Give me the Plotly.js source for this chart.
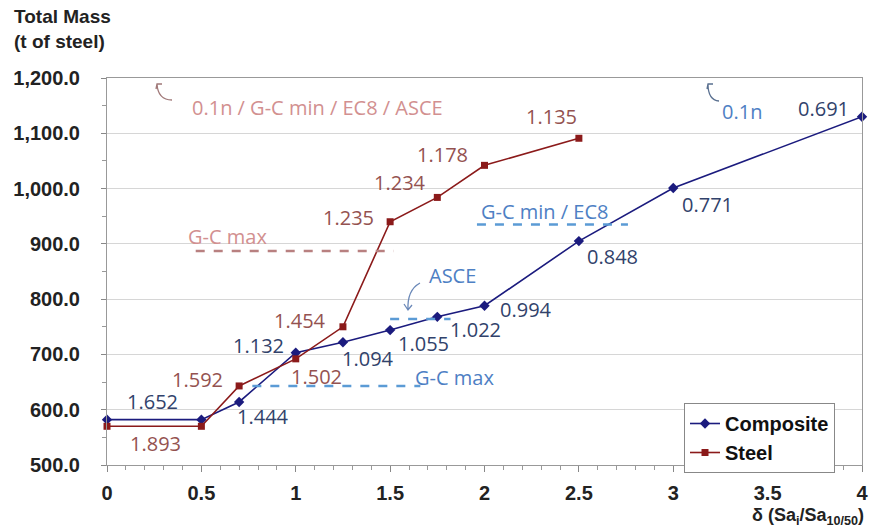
<!DOCTYPE html>
<html>
<head>
<meta charset="utf-8">
<script src="https://cdn.plot.ly/plotly-3.0.1.min.js"></script>
<style>html,body{margin:0;padding:0;background:#fff;}#chart{width:870px;height:528px;}</style>
</head>
<body>
<div id="chart"></div>
<script>
// ---- data ----
const deltaComposite = [0, 0.5, 0.7, 1, 1.25, 1.5, 1.75, 2, 2.5, 3, 4];
const massComposite  = [582, 582, 614, 703, 722, 744, 768, 788, 905, 1001, 1130];
const ratioComposite = ['1.652', null, '1.444', '1.132', '1.094', '1.055', '1.022', '0.994', '0.848', '0.771', '0.691'];

const deltaSteel = [0, 0.5, 0.7, 1, 1.25, 1.5, 1.75, 2, 2.5];
const massSteel  = [570, 570, 643, 692, 750, 940, 984, 1042, 1091];
const ratioSteel = ['1.893', null, '1.592', '1.502', '1.454', '1.235', '1.234', '1.178', '1.135'];

// reference (code) levels
const refNames  = ['G-C max', 'G-C min / EC8', 'ASCE', 'G-C max'];
const refSeries = ['Steel', 'Composite', 'Composite', 'Composite'];
const refMass   = [887, 935, 764, 643];
const refFrom   = [0.47, 1.96, 1.5, 0.77];
const refTo     = [1.52, 2.76, 1.82, 1.66];

const yTickVals = [500, 600, 700, 800, 900, 1000, 1100, 1200];
const xTickVals = [0, 0.5, 1, 1.5, 2, 2.5, 3, 3.5, 4];

// ---- layout geometry / styles ----
const W = 870, H = 528, M = {l: 107, r: 8, t: 78, b: 63};
const X_RANGE = [0, 4], Y_RANGE = [500, 1200];
const pw = W - M.l - M.r, ph = H - M.t - M.b;
const bottomPx = H - M.b;
// pixel -> data / paper helpers (for decorative items only)
const dx = p => X_RANGE[0] + (p - M.l) / pw * (X_RANGE[1] - X_RANGE[0]);
const dy = p => Y_RANGE[0] + (bottomPx - p) / ph * (Y_RANGE[1] - Y_RANGE[0]);
const px2paperX = p => (p - M.l) / pw;
const px2paperY = p => (bottomPx - p) / ph;

const navy = '#1B1B7E', maroon = '#8B1A1A';
const compLabelColor = '#31426B', steelLabelColor = '#945250';
const blueNote = '#4E80C4', pinkNote = '#D29090';
const blueDash = '#5B9BD5', pinkDash = '#B88080';
const labelFont = 'Open Sans, sans-serif';
const boldFont = 'Liberation Sans, Arial, sans-serif';

// label offsets in px (xshift, yshift) per point
const compOffsets = [[45,18],null,[24,-15],[-37,7],[25,-16],[33,-13],[38,-13],[41,-4],[34,-15],[34,-16],[-39,8]];
const steelOffsets = [[48,-17],null,[-42,6],[21,-18],[-43,6],[-42,4],[-37,15],[-42,11],[-27,22]];

const traces = [
  {x: deltaComposite, y: massComposite, name: 'Composite', type: 'scatter', mode: 'lines+markers',
   line: {color: navy, width: 1.6}, marker: {symbol: 'diamond', size: 8, color: navy}, cliponaxis: false},
  {x: deltaSteel, y: massSteel, name: 'Steel', type: 'scatter', mode: 'lines+markers',
   line: {color: maroon, width: 1.6}, marker: {symbol: 'square', size: 7, color: maroon}, cliponaxis: false}
];

const annotations = [];
ratioComposite.forEach((t, i) => {
  if (!t) return;
  annotations.push({x: deltaComposite[i], y: massComposite[i], xref: 'x', yref: 'y', text: t, showarrow: false,
    xshift: compOffsets[i][0], yshift: compOffsets[i][1], font: {family: labelFont, size: 20, color: compLabelColor}});
});
ratioSteel.forEach((t, i) => {
  if (!t) return;
  annotations.push({x: deltaSteel[i], y: massSteel[i], xref: 'x', yref: 'y', text: t, showarrow: false,
    xshift: steelOffsets[i][0], yshift: steelOffsets[i][1], font: {family: labelFont, size: 20, color: steelLabelColor}});
});

// reference-level labels
const noteFont = c => ({family: labelFont, size: 20, color: c});
annotations.push({x: 0.636, y: 914, xref: 'x', yref: 'y', text: refNames[0], showarrow: false, font: noteFont(pinkNote)});
annotations.push({x: 2.32, y: 958, xref: 'x', yref: 'y', text: refNames[1], showarrow: false, font: noteFont(blueNote)});
annotations.push({x: 1.83, y: 843, xref: 'x', yref: 'y', text: refNames[2], showarrow: false, font: noteFont(blueNote)});
annotations.push({x: 1.62, y: 659, xref: 'x', yref: 'y', xanchor: 'left', text: refNames[3], showarrow: false, font: noteFont(blueNote)});
annotations.push({x: 1.113, y: 1147, xref: 'x', yref: 'y', text: '0.1n / G-C min / EC8 / ASCE', showarrow: false, font: noteFont(pinkNote)});
annotations.push({x: 3.364, y: 1140, xref: 'x', yref: 'y', text: '0.1n', showarrow: false, font: noteFont(blueNote)});

// axis titles
annotations.push({xref: 'paper', yref: 'paper', x: px2paperX(12), y: px2paperY(4), xanchor: 'left', yanchor: 'top', align: 'left',
  text: 'Total Mass<br>(t of steel)', showarrow: false,
  font: {family: boldFont, size: 19, color: '#222', weight: 'bold'}});
annotations.push({xref: 'paper', yref: 'paper', x: px2paperX(866), y: px2paperY(503), xanchor: 'right', yanchor: 'top',
  text: 'δ (Sa<sub>i</sub>/Sa<sub>10/50</sub>)', showarrow: false,
  font: {family: boldFont, size: 18, color: '#222', weight: 'bold'}});

// dashed reference levels
const shapes = refMass.map((m, i) => ({
  type: 'line', xref: 'x', yref: 'y', x0: refFrom[i], x1: refTo[i], y0: m, y1: m,
  line: {color: refSeries[i] === 'Steel' ? pinkDash : blueDash, width: 2.5, dash: 'dash'}
}));

// small curved pointer arrows (pixel geometry -> data)
function pointer(tail, ctrl, tip, h1, h2, color) {
  const P = p => dx(p[0]) + ',' + dy(p[1]);
  shapes.push({type: 'path', xref: 'x', yref: 'y', layer: 'above',
    path: 'M' + P(tail) + ' Q' + P(ctrl) + ' ' + P(tip) + ' M' + P(h1) + ' L' + P(tip) + ' L' + P(h2),
    line: {color: color, width: 1.3}});
}
pointer([172, 100], [158, 100], [157, 84], [162, 84], [156, 89], '#A07878');
pointer([719, 101], [708, 100], [708, 84], [713, 84], [707, 89], '#5A7090');
pointer([420, 283], [407, 290], [408, 310], [404, 304], [412, 305], '#6A88B8');

const tickFont = {family: boldFont, size: 20, color: '#222', weight: 'bold'};

const layout = {
  width: W, height: H,
  margin: M,
  paper_bgcolor: '#fff', plot_bgcolor: '#fff',
  showlegend: true,
  legend: {x: px2paperX(684), y: px2paperY(403), xanchor: 'left', yanchor: 'top', bgcolor: '#fff',
    bordercolor: '#888', borderwidth: 1,
    font: {family: boldFont, size: 20, color: '#111', weight: 'bold'},
    itemwidth: 30, tracegroupgap: 0},
  xaxis: {range: X_RANGE, tickvals: xTickVals, ticktext: xTickVals.map(String), ticks: 'outside', ticklen: 6,
    tickcolor: '#888', showgrid: false, zeroline: false, showline: true, linecolor: '#999', mirror: true,
    minor: {dtick: 0.1, ticks: 'outside', ticklen: 4, tickcolor: '#999', showgrid: false},
    tickfont: tickFont, ticklabelstandoff: 4},
  yaxis: {range: Y_RANGE, tickvals: yTickVals, tickformat: ',.1f', ticks: 'outside', ticklen: 5,
    tickcolor: '#888', showgrid: true, gridcolor: '#D6D6D6', gridwidth: 1, zeroline: false,
    showline: true, linecolor: '#999', mirror: true,
    minor: {dtick: 50, ticks: 'outside', ticklen: 4, tickcolor: '#999', showgrid: false},
    tickfont: tickFont, ticklabelstandoff: 17},
  annotations: annotations,
  shapes: shapes
};

Plotly.newPlot('chart', traces, layout, {displayModeBar: false, staticPlot: true});
</script>
</body>
</html>
